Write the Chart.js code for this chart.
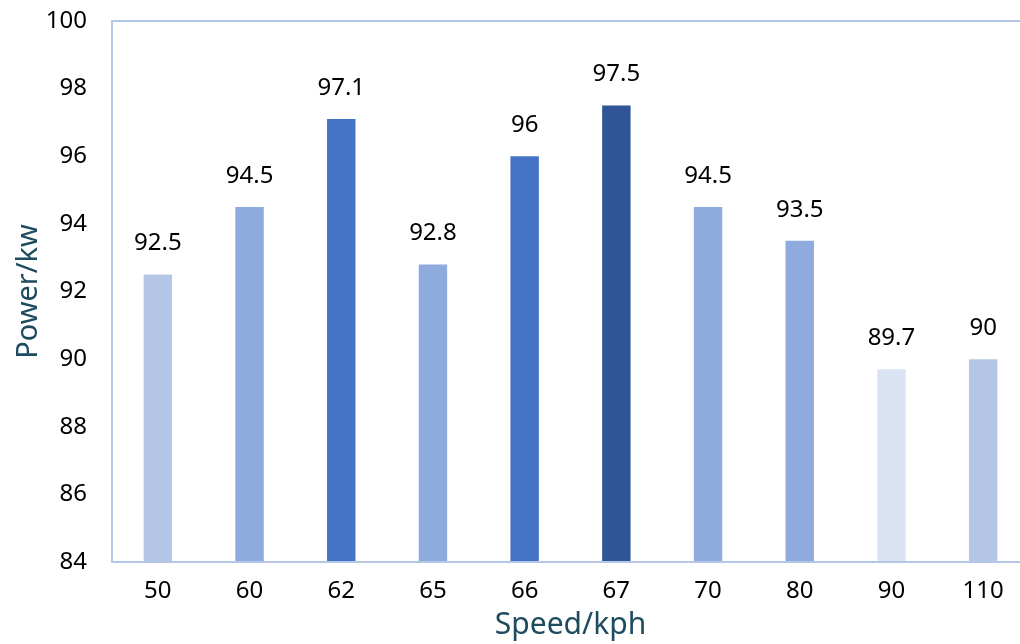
<!DOCTYPE html>
<html>
<head>
<meta charset="utf-8">
<script src="https://cdn.jsdelivr.net/npm/chart.js@4/dist/chart.umd.min.js"></script>
<style>
  html, body { margin: 0; padding: 0; background: #fff; overflow: hidden; }
  #wrap { width: 1020px; height: 644px; overflow: hidden; position: relative; }
  canvas { display: block; }
</style>
</head>
<body>
<div id="wrap"><canvas id="c" width="1029" height="644"></canvas></div>
<script>
// Speed categories and measured power
const speeds = ['50', '60', '62', '65', '66', '67', '70', '80', '90', '110'];
const power = [92.5, 94.5, 97.1, 92.8, 96, 97.5, 94.5, 93.5, 89.7, 90];
const barColors = ['#B4C7E7', '#8FAADC', '#4472C4', '#8FAADC', '#4472C4',
                   '#2F5597', '#8FAADC', '#8FAADC', '#DAE3F3', '#B4C7E7'];
const yTicks = [84, 86, 88, 90, 92, 94, 96, 98, 100];

const FONT = '"Noto Sans", "DejaVu Sans", sans-serif';
const FRAME = '#B4C7E7';
const TITLE = '#1E4B5F';

// Frame around the plot area
const framePlugin = {
  id: 'frame',
  afterDatasetsDraw(chart) {
    const { ctx, chartArea: a } = chart;
    ctx.save();
    ctx.strokeStyle = FRAME;
    ctx.lineWidth = 2;
    ctx.strokeRect(a.left, a.top, a.right - a.left, a.bottom - a.top);
    ctx.restore();
  }
};

// Value labels above each bar
const valueLabels = {
  id: 'valueLabels',
  afterDatasetsDraw(chart) {
    const { ctx } = chart;
    const meta = chart.getDatasetMeta(0);
    ctx.save();
    ctx.font = '24px ' + FONT;
    ctx.fillStyle = '#000';
    ctx.textAlign = 'center';
    ctx.textBaseline = 'middle';
    meta.data.forEach((bar, i) => {
      ctx.fillText(String(power[i]), bar.x, bar.y - 31);
    });
    ctx.restore();
  }
};

new Chart(document.getElementById('c'), {
  type: 'bar',
  data: {
    labels: speeds,
    datasets: [{
      data: power,
      backgroundColor: barColors,
      borderWidth: 0,
      barPercentage: 0.31,
      categoryPercentage: 1.0
    }]
  },
  options: {
    responsive: false,
    animation: false,
    devicePixelRatio: 1,
    layout: { padding: { top: 21, right: 0, left: 0, bottom: 0 } },
    plugins: { legend: { display: false }, tooltip: { enabled: false } },
    scales: {
      x: {
        grid: { display: false, drawTicks: false },
        border: { display: false },
        ticks: { color: '#000', font: { family: FONT, size: 24 }, padding: 15 },
        title: {
          display: true, text: 'Speed/kph', color: TITLE,
          font: { family: FONT, size: 30 }, padding: { top: 0, bottom: 1 }
        },
        afterFit(s) { s.height = 82; }
      },
      y: {
        min: 84, max: 100,
        afterBuildTicks(s) { s.ticks = yTicks.map(v => ({ value: v })); },
        // invisible tick marks keep the labels clear of the frame
        grid: { display: false, drawTicks: true, tickLength: 25, tickColor: 'rgba(0,0,0,0)' },
        border: { display: false },
        ticks: { color: '#000', font: { family: FONT, size: 24 }, padding: 0 },
        title: {
          display: true, text: 'Power/kw', color: TITLE,
          font: { family: FONT, size: 29 }, padding: { top: 11, bottom: 0 }
        },
        afterFit(s) { s.width = 112; }
      }
    }
  },
  plugins: [framePlugin, valueLabels]
});
</script>
</body>
</html>
